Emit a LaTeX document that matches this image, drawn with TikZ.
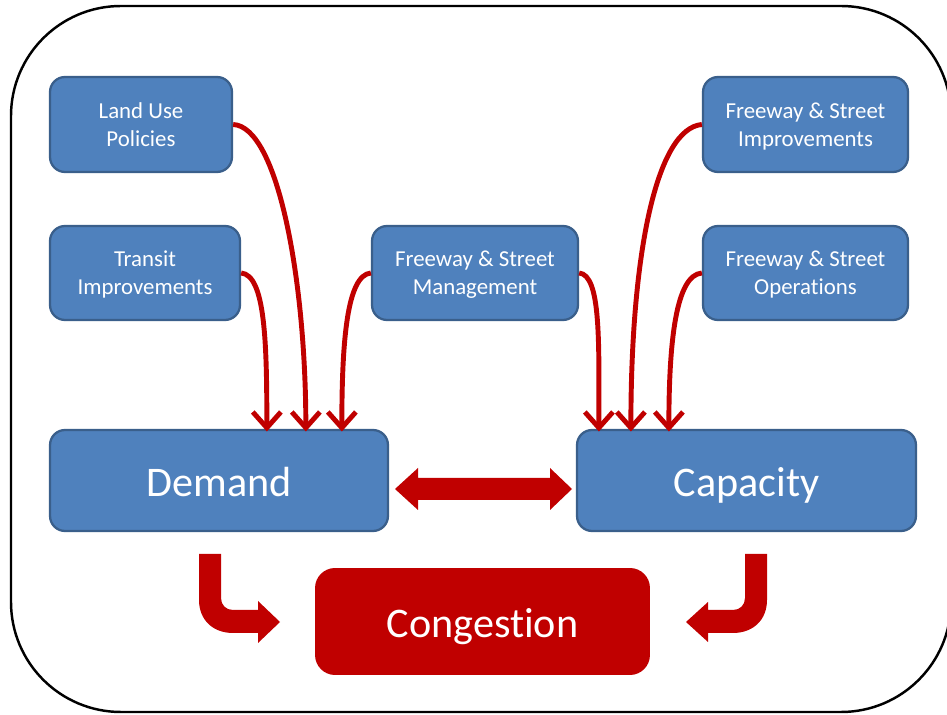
\documentclass[tikz,border=0pt]{standalone}
\usepackage{fontspec}
\setmainfont{Carlito}[Ligatures=NoCommon]
\usetikzlibrary{arrows.meta,calc}
\definecolor{boxblue}{HTML}{4F81BD}
\definecolor{boxedge}{HTML}{3A5F8B}
\definecolor{darkred}{HTML}{C00000}
\tikzset{
  smallbox/.style={draw=boxedge, line width=1.3pt, fill=boxblue, rounded corners=0.3cm,
    text=white, align=center, inner sep=0pt, text depth=0pt, font=\fontsize{13}{16}\selectfont},
  bigbox/.style={smallbox, text height=18.5pt, font=\fontsize{24}{28}\selectfont},
  conbox/.style={fill=darkred, rounded corners=0.4cm, text=white, inner sep=0pt,
    text depth=0pt, text height=18pt, font=\fontsize{24}{28}\selectfont},
  redarrow/.style={draw=darkred, line width=2.8pt,
    -{Straight Barb[length=9pt,width=16pt,line join=miter]}},
  blockarrow/.style={fill=darkred},
  frame/.style={draw=black, line width=1.4pt, rounded corners=2.2cm}
}
\begin{document}
\begin{tikzpicture}[x=0.02cm, y=-0.02cm]
\useasboundingbox (0,0) rectangle (947,715);
\draw[frame] (11,6) rectangle (951,712);

\node[smallbox, minimum width=3.64cm, minimum height=1.9cm] (lu) at (141,124.5) {Land Use\\Policies};
\node[smallbox, minimum width=3.8cm, minimum height=1.88cm] (ti) at (145,273) {Transit\\Improvements};
\node[smallbox, minimum width=4.12cm, minimum height=1.88cm] (fsm) at (475,273) {Freeway \& Street\\Management};
\node[smallbox, minimum width=4.1cm, minimum height=1.9cm] (fsi) at (805.5,124.5) {Freeway \& Street\\Improvements};
\node[smallbox, minimum width=4.1cm, minimum height=1.88cm] (fso) at (805.5,273) {Freeway \& Street\\Operations};
\node[bigbox, minimum width=6.76cm, minimum height=2.02cm] (dem) at (219,480.5) {Demand};
\node[bigbox, minimum width=6.78cm, minimum height=2.02cm] (cap) at (746.5,480.5) {Capacity};
\node[conbox, minimum width=6.7cm, minimum height=2.14cm] (con) at (482.5,621.5) {Congestion};

% curved arrows into Demand
\draw[redarrow] (lu.east) .. controls +(45,2) and +(0,-150) .. ([xshift=5.14cm, yshift=-1.5pt]dem.north west);
\draw[redarrow] (ti.east) .. controls +(24,2) and +(0,-90) .. ([xshift=4.36cm, yshift=-1.5pt]dem.north west);
\draw[redarrow] (fsm.west) .. controls +(-24,2) and +(0,-90) .. ([xshift=5.86cm, yshift=-1.5pt]dem.north west);
% curved arrows into Capacity
\draw[redarrow] (fsm.east) .. controls +(22,2) and +(0,-90) .. ([xshift=0.46cm, yshift=-1.5pt]cap.north west);
\draw[redarrow] (fsi.west) .. controls +(-45,4) and +(0,-180) .. ([xshift=1.1cm, yshift=-1.5pt]cap.north west);
\draw[redarrow] (fso.west) .. controls +(-26,2) and +(0,-90) .. ([xshift=1.86cm, yshift=-1.5pt]cap.north west);

% double block arrow
\fill[blockarrow] (395,489) -- (418,468) -- (418,478) -- (550,478) -- (550,468) -- (572,489)
  -- (550,510) -- (550,500) -- (418,500) -- (418,510) -- cycle;

% bent arrows into Congestion
\fill[blockarrow] (199,554) -- (221,554) -- (221,598) .. controls (221,605) and (226,610) .. (233,610)
  -- (258,610) -- (258,601) -- (280,622) -- (258,643) -- (258,633) -- (233,633)
  .. controls (213,633) and (199,620) .. (199,600) -- cycle;
\fill[blockarrow] (745,554) -- (767,554) -- (767,600) .. controls (767,620) and (753,633) .. (733,633)
  -- (708,633) -- (708,642) -- (686,622) -- (708,602) -- (708,610) -- (733,610)
  .. controls (740,610) and (745,605) .. (745,598) -- cycle;
\end{tikzpicture}
\end{document}
